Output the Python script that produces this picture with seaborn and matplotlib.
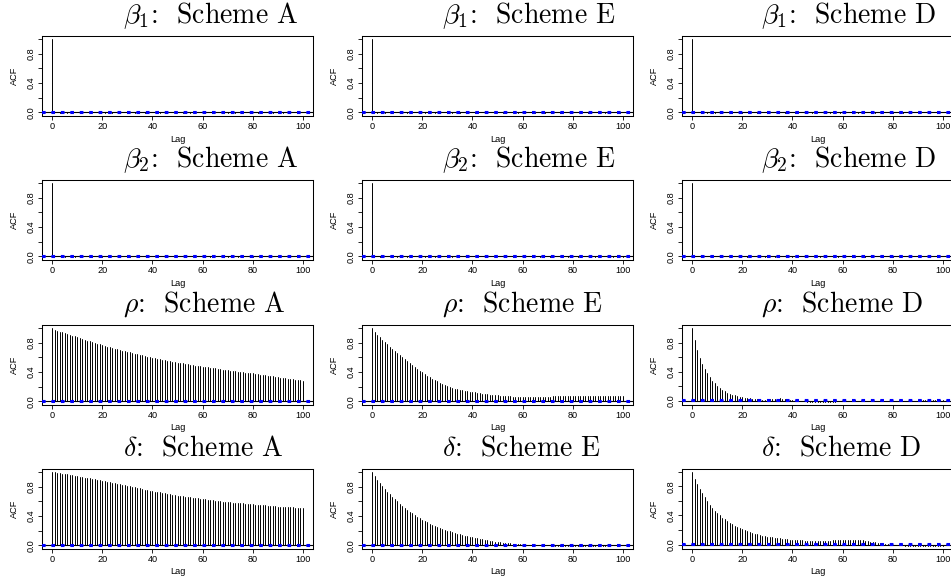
import numpy as np
import pandas as pd
import matplotlib
matplotlib.use("Agg")
import matplotlib.pyplot as plt
import seaborn as sns

# ---------------- data (ACF values, lags 0..100) ----------------
beta1_A = [1.0,
    0.006, 0.003, -0.002, 0.004, 0.001, -0.003, 0.002, 0.005, -0.001, 0.000,
    0.003, -0.004, 0.002, 0.001, -0.002, 0.004, 0.003, -0.001, 0.000, 0.002,
    -0.003, 0.001, 0.004, -0.002, 0.003, 0.000, -0.001, 0.002, 0.005, -0.003,
    0.001, 0.002, -0.002, 0.000, 0.003, 0.001, -0.004, 0.002, 0.004, -0.001,
    0.000, 0.003, -0.002, 0.001, 0.002, -0.003, 0.004, 0.000, -0.001, 0.002,
    0.003, -0.002, 0.001, 0.000, -0.003, 0.002, 0.004, -0.001, 0.001, 0.003,
    -0.002, 0.000, 0.002, -0.004, 0.001, 0.003, -0.001, 0.002, 0.000, -0.002,
    0.004, 0.001, -0.003, 0.002, 0.003, -0.001, 0.000, 0.002, -0.002, 0.001,
    0.004, -0.003, 0.000, 0.002, 0.003, -0.001, 0.001, -0.002, 0.003, 0.000,
    0.002, -0.004, 0.001, 0.003, -0.002, 0.000, 0.002, 0.004, -0.001, 0.001]

beta1_E = [1.0,
    0.004, -0.002, 0.003, 0.001, -0.003, 0.002, 0.000, 0.005, -0.001, 0.002,
    -0.002, 0.003, 0.001, -0.004, 0.002, 0.000, 0.003, -0.001, 0.004, 0.001,
    -0.003, 0.002, 0.000, 0.001, -0.002, 0.004, 0.002, -0.001, 0.000, 0.003,
    0.001, -0.003, 0.002, 0.004, -0.002, 0.000, 0.001, 0.003, -0.001, 0.002,
    -0.004, 0.001, 0.003, 0.000, -0.002, 0.002, 0.004, -0.001, 0.001, 0.000,
    0.003, -0.003, 0.002, 0.001, -0.001, 0.004, 0.000, -0.002, 0.003, 0.001,
    0.002, -0.001, 0.000, 0.003, -0.003, 0.002, 0.001, 0.004, -0.002, 0.000,
    0.001, 0.003, -0.001, 0.002, -0.004, 0.000, 0.003, 0.001, -0.002, 0.002,
    0.004, 0.000, -0.001, 0.002, 0.001, -0.003, 0.003, 0.000, 0.002, -0.001,
    0.001, 0.004, -0.002, 0.000, 0.003, -0.001, 0.002, 0.001, -0.003, 0.002]

beta1_D = [1.0,
    0.002, 0.005, -0.001, 0.003, 0.000, -0.002, 0.004, 0.001, -0.003, 0.002,
    0.003, 0.000, -0.001, 0.004, 0.002, -0.002, 0.001, 0.003, 0.000, -0.004,
    0.002, 0.001, -0.001, 0.003, 0.005, -0.002, 0.000, 0.002, 0.001, -0.003,
    0.004, 0.000, 0.002, -0.001, 0.003, 0.001, -0.002, 0.000, 0.004, 0.002,
    -0.003, 0.001, 0.003, -0.001, 0.000, 0.002, 0.004, -0.002, 0.001, 0.003,
    0.000, -0.001, 0.002, 0.005, -0.003, 0.001, 0.000, 0.003, -0.002, 0.002,
    0.004, -0.001, 0.001, 0.000, 0.003, -0.004, 0.002, 0.001, -0.001, 0.003,
    0.000, 0.002, -0.002, 0.004, 0.001, -0.001, 0.003, 0.000, 0.002, -0.003,
    0.001, 0.004, 0.000, -0.002, 0.002, 0.003, -0.001, 0.001, 0.000, 0.004,
    -0.002, 0.002, 0.001, -0.003, 0.003, 0.000, 0.002, -0.001, 0.004, 0.001]

beta2_A = [1.0,
    0.005, -0.001, 0.002, 0.003, -0.002, 0.000, 0.004, 0.001, -0.003, 0.002,
    0.000, 0.003, -0.001, 0.002, 0.004, -0.002, 0.001, 0.000, 0.003, -0.004,
    0.002, 0.001, 0.003, -0.001, 0.000, 0.002, -0.003, 0.004, 0.001, 0.000,
    -0.002, 0.003, 0.002, -0.001, 0.004, 0.000, 0.001, -0.002, 0.003, 0.002,
    0.000, -0.003, 0.001, 0.004, -0.001, 0.002, 0.000, 0.003, -0.002, 0.001,
    0.002, 0.004, -0.003, 0.000, 0.001, 0.003, -0.001, 0.002, 0.000, -0.002,
    0.003, 0.001, -0.004, 0.002, 0.000, 0.004, -0.001, 0.001, 0.003, -0.002,
    0.000, 0.002, 0.001, -0.003, 0.004, 0.000, -0.001, 0.003, 0.002, -0.002,
    0.001, 0.000, 0.003, -0.001, 0.002, 0.004, -0.003, 0.001, 0.000, 0.002,
    -0.002, 0.003, 0.001, 0.000, -0.004, 0.002, 0.003, -0.001, 0.001, 0.000]

beta2_E = [1.0,
    0.003, 0.001, -0.003, 0.002, 0.004, 0.000, -0.001, 0.003, 0.001, -0.002,
    0.002, 0.000, 0.004, -0.003, 0.001, 0.002, -0.001, 0.003, 0.000, 0.002,
    -0.002, 0.004, 0.001, 0.000, -0.003, 0.002, 0.003, -0.001, 0.001, 0.004,
    0.000, -0.002, 0.002, 0.003, -0.001, 0.001, 0.000, -0.004, 0.002, 0.003,
    0.001, -0.001, 0.004, 0.000, 0.002, -0.003, 0.001, 0.003, -0.002, 0.000,
    0.002, 0.001, -0.001, 0.004, 0.000, -0.002, 0.003, 0.001, 0.002, -0.003,
    0.000, 0.004, 0.001, -0.001, 0.002, 0.003, -0.002, 0.000, 0.001, 0.004,
    -0.003, 0.002, 0.000, 0.001, -0.001, 0.003, 0.002, -0.002, 0.004, 0.000,
    0.001, -0.003, 0.002, 0.003, 0.000, -0.001, 0.001, 0.004, -0.002, 0.002,
    0.000, 0.003, -0.001, 0.001, 0.002, -0.004, 0.000, 0.003, 0.001, -0.002]

beta2_D = [1.0,
    0.004, 0.002, 0.000, -0.002, 0.003, 0.001, -0.001, 0.004, 0.000, 0.002,
    -0.003, 0.001, 0.003, 0.000, -0.002, 0.004, 0.002, -0.001, 0.001, 0.003,
    0.000, -0.004, 0.002, 0.001, 0.003, -0.001, 0.000, 0.004, -0.002, 0.002,
    0.001, 0.000, -0.003, 0.003, 0.002, -0.001, 0.004, 0.001, 0.000, -0.002,
    0.003, 0.002, -0.001, 0.000, 0.004, -0.003, 0.001, 0.002, 0.000, 0.003,
    -0.002, 0.001, 0.004, -0.001, 0.000, 0.002, 0.003, -0.003, 0.001, 0.000,
    0.002, -0.001, 0.003, 0.004, -0.002, 0.000, 0.001, 0.002, -0.004, 0.003,
    0.001, 0.000, -0.001, 0.002, 0.004, -0.002, 0.003, 0.000, 0.001, -0.003,
    0.002, 0.003, 0.000, -0.001, 0.001, 0.004, -0.002, 0.002, 0.000, 0.003,
    -0.001, 0.001, 0.002, -0.003, 0.004, 0.000, 0.001, -0.002, 0.003, 0.002]

rho_A = [1.0,
    0.975, 0.962, 0.950, 0.940, 0.928, 0.917, 0.906, 0.895, 0.884, 0.872,
    0.861, 0.850, 0.840, 0.829, 0.819, 0.808, 0.798, 0.788, 0.777, 0.765,
    0.756, 0.747, 0.738, 0.729, 0.720, 0.711, 0.702, 0.693, 0.684, 0.675,
    0.667, 0.659, 0.651, 0.643, 0.635, 0.627, 0.619, 0.611, 0.603, 0.595,
    0.588, 0.581, 0.574, 0.567, 0.560, 0.553, 0.547, 0.541, 0.535, 0.529,
    0.523, 0.517, 0.511, 0.505, 0.499, 0.493, 0.488, 0.483, 0.478, 0.473,
    0.468, 0.463, 0.458, 0.453, 0.448, 0.443, 0.438, 0.433, 0.428, 0.423,
    0.418, 0.413, 0.408, 0.404, 0.400, 0.396, 0.392, 0.388, 0.384, 0.380,
    0.375, 0.370, 0.365, 0.360, 0.355, 0.350, 0.345, 0.340, 0.335, 0.330,
    0.325, 0.320, 0.315, 0.310, 0.305, 0.300, 0.296, 0.292, 0.288, 0.284]

rho_E = [1.0,
    0.950, 0.910, 0.875, 0.840, 0.808, 0.776, 0.746, 0.716, 0.688, 0.660,
    0.637, 0.605, 0.574, 0.545, 0.517, 0.490, 0.465, 0.441, 0.418, 0.396,
    0.372, 0.349, 0.328, 0.308, 0.289, 0.271, 0.254, 0.238, 0.223, 0.209,
    0.196, 0.185, 0.175, 0.166, 0.158, 0.150, 0.143, 0.137, 0.131, 0.126,
    0.121, 0.116, 0.111, 0.106, 0.101, 0.096, 0.092, 0.088, 0.084, 0.081,
    0.078, 0.075, 0.072, 0.070, 0.068, 0.066, 0.065, 0.064, 0.063, 0.062,
    0.062, 0.062, 0.062, 0.063, 0.063, 0.064, 0.064, 0.065, 0.065, 0.066,
    0.066, 0.067, 0.067, 0.068, 0.068, 0.069, 0.069, 0.070, 0.070, 0.071,
    0.071, 0.072, 0.072, 0.072, 0.073, 0.073, 0.073, 0.073, 0.073, 0.073,
    0.073, 0.072, 0.072, 0.072, 0.071, 0.071, 0.070, 0.070, 0.070, 0.069]

rho_D = [1.0,
    0.835, 0.700, 0.590, 0.505, 0.435, 0.375, 0.322, 0.275, 0.238, 0.205,
    0.178, 0.152, 0.130, 0.112, 0.096, 0.082, 0.071, 0.061, 0.053, 0.046,
    0.040, 0.035, 0.030, 0.026, 0.022, 0.019, 0.016, 0.014, 0.013, 0.014,
    0.017, 0.021, 0.025, 0.028, 0.030, 0.028, 0.024, 0.018, 0.012, 0.006,
    0.002, -0.002, -0.005, -0.008, -0.010, -0.012, -0.014, -0.016, -0.017, -0.018,
    -0.019, -0.019, -0.019, -0.018, -0.017, -0.015, -0.012, -0.009, -0.006, -0.003,
    -0.001, 0.001, 0.002, 0.003, 0.003, 0.002, 0.001, 0.000, -0.001, -0.002,
    -0.002, -0.003, -0.003, -0.002, -0.001, 0.000, 0.001, 0.002, 0.002, 0.002,
    0.001, 0.000, -0.001, -0.002, -0.002, -0.001, 0.000, 0.001, 0.002, 0.003,
    0.004, 0.004, 0.005, 0.005, 0.006, 0.006, 0.007, 0.008, 0.009, 0.010]

delta_A = [1.0,
    0.995, 0.990, 0.984, 0.978, 0.972, 0.966, 0.960, 0.954, 0.948, 0.941,
    0.935, 0.929, 0.923, 0.917, 0.911, 0.905, 0.898, 0.892, 0.886, 0.880,
    0.873, 0.866, 0.859, 0.852, 0.845, 0.838, 0.831, 0.824, 0.817, 0.810,
    0.803, 0.796, 0.789, 0.782, 0.775, 0.768, 0.761, 0.754, 0.747, 0.740,
    0.733, 0.727, 0.721, 0.715, 0.709, 0.703, 0.697, 0.691, 0.685, 0.679,
    0.674, 0.669, 0.664, 0.659, 0.654, 0.649, 0.644, 0.639, 0.634, 0.629,
    0.625, 0.621, 0.617, 0.613, 0.609, 0.605, 0.601, 0.597, 0.593, 0.589,
    0.586, 0.583, 0.580, 0.577, 0.574, 0.571, 0.568, 0.565, 0.562, 0.559,
    0.556, 0.553, 0.550, 0.547, 0.544, 0.541, 0.538, 0.535, 0.532, 0.529,
    0.527, 0.525, 0.523, 0.521, 0.519, 0.517, 0.515, 0.513, 0.511, 0.509]

delta_E = [1.0,
    0.945, 0.895, 0.850, 0.808, 0.768, 0.730, 0.694, 0.660, 0.628, 0.598,
    0.567, 0.538, 0.510, 0.484, 0.459, 0.435, 0.412, 0.390, 0.369, 0.349,
    0.330, 0.312, 0.295, 0.279, 0.264, 0.250, 0.237, 0.224, 0.212, 0.200,
    0.189, 0.178, 0.168, 0.158, 0.149, 0.140, 0.131, 0.123, 0.115, 0.107,
    0.100, 0.093, 0.086, 0.080, 0.074, 0.068, 0.062, 0.056, 0.051, 0.046,
    0.041, 0.037, 0.033, 0.029, 0.026, 0.023, 0.020, 0.017, 0.014, 0.012,
    0.010, 0.008, 0.006, 0.005, 0.004, 0.003, 0.002, 0.001, 0.000, -0.001,
    -0.002, -0.003, -0.004, -0.005, -0.006, -0.006, -0.007, -0.007, -0.008, -0.008,
    -0.009, -0.009, -0.010, -0.010, -0.010, -0.009, -0.009, -0.008, -0.007, -0.006,
    -0.005, -0.004, -0.003, -0.002, -0.001, 0.000, 0.001, 0.002, 0.002, 0.003]

delta_D = [1.0,
    0.905, 0.830, 0.765, 0.705, 0.650, 0.598, 0.550, 0.505, 0.465, 0.430,
    0.400, 0.372, 0.346, 0.322, 0.300, 0.280, 0.261, 0.243, 0.226, 0.210,
    0.196, 0.183, 0.171, 0.160, 0.150, 0.141, 0.132, 0.124, 0.117, 0.110,
    0.104, 0.098, 0.093, 0.088, 0.083, 0.079, 0.075, 0.071, 0.068, 0.065,
    0.062, 0.060, 0.058, 0.056, 0.054, 0.053, 0.052, 0.051, 0.050, 0.050,
    0.050, 0.051, 0.052, 0.053, 0.055, 0.057, 0.059, 0.061, 0.063, 0.065,
    0.066, 0.067, 0.067, 0.067, 0.066, 0.064, 0.061, 0.057, 0.052, 0.046,
    0.040, 0.034, 0.028, 0.022, 0.017, 0.012, 0.008, 0.004, 0.001, -0.002,
    -0.005, -0.008, -0.010, -0.012, -0.014, -0.016, -0.017, -0.018, -0.019, -0.020,
    -0.020, -0.021, -0.021, -0.021, -0.021, -0.020, -0.020, -0.019, -0.019, -0.018]

conf_limit = 0.009          # approx. 95% white-noise bound (blue dashed lines)

param_labels = [r"$\beta_1$", r"$\beta_2$", r"$\rho$", r"$\delta$"]
scheme_labels = ["A", "E", "D"]
acf_series = [
    [beta1_A, beta1_E, beta1_D],
    [beta2_A, beta2_E, beta2_D],
    [rho_A, rho_E, rho_D],
    [delta_A, delta_E, delta_D],
]
x_ticks = [0, 20, 40, 60, 80, 100]
y_ticks = [0.0, 0.2, 0.4, 0.6, 0.8, 1.0]
y_ticklabels = ["0.0", "", "0.4", "", "0.8", ""]

# ---------------- style ----------------
sns.set_style("ticks")
plt.rcParams["font.family"] = ["Liberation Sans", "DejaVu Sans"]
plt.rcParams["mathtext.fontset"] = "cm"
plt.rcParams["lines.scale_dashes"] = False
plt.rcParams["text.color"] = "black"
plt.rcParams["xtick.color"] = "black"
plt.rcParams["ytick.color"] = "black"
plt.rcParams["axes.edgecolor"] = "black"

W, H = 951, 582
fig = plt.figure(figsize=(W / 100, H / 100), dpi=100)
fig.patch.set_facecolor("white")

col_left = [42, 362, 682]
row_top = [36, 180, 325, 469]
aw, ah = 271, 80
title_left = [123, 442, 761]
title_base = [22.7, 167.0, 311.3, 455.6]

tick_fs = 6.6
for r in range(4):
    for c in range(3):
        vals = np.asarray(acf_series[r][c], dtype=float)
        lags = np.arange(len(vals))
        df = pd.DataFrame({
            "lag": np.concatenate([lags, lags]),
            "acf": np.concatenate([np.zeros_like(vals), vals]),
        })
        ax = fig.add_axes([col_left[c] / W, 1 - (row_top[r] + ah) / H, aw / W, ah / H])
        sns.lineplot(data=df, x="lag", y="acf", units="lag", estimator=None,
                     sort=False, color="black", linewidth=0.7, ax=ax, legend=False)
        ax.axhline(0, color="black", linewidth=0.8, zorder=3)
        for s in (1, -1):
            ax.axhline(s * conf_limit, color="#0000ff", linewidth=1.5,
                       linestyle=(0, (2.6, 4.2)), zorder=4)
        lo = min(vals.min(), -conf_limit)
        hi = max(vals.max(), conf_limit)
        pad = 0.04 * (hi - lo)
        ax.set_ylim(lo - pad, hi + pad)
        ax.set_xlim(-4, 104)
        ax.set_xticks(x_ticks)
        ax.set_xticklabels([str(t) for t in x_ticks])
        ax.set_yticks(y_ticks)
        ax.set_yticklabels(y_ticklabels)
        ax.set_xlabel("")
        ax.set_ylabel("")
        ax.tick_params(axis="both", direction="out", length=3.0, width=0.6,
                       labelsize=tick_fs, pad=1.5)
        ax.tick_params(axis="y", labelrotation=90)
        for lab in ax.get_yticklabels():
            lab.set_va("center")
        for sp in ax.spines.values():
            sp.set_visible(True)
            sp.set_linewidth(0.75)
            sp.set_color("black")
        ax.set_facecolor("white")

        # axis labels
        fig.text((col_left[c] - 28) / W, 1 - (row_top[r] + ah / 2) / H, "ACF",
                 rotation=90, ha="center", va="center", fontsize=tick_fs)
        fig.text((col_left[c] + aw / 2) / W, 1 - (row_top[r] + ah + 23) / H, "Lag",
                 ha="center", va="center", fontsize=tick_fs)
        # panel title (Computer Modern, like the LaTeX original)
        fig.text(title_left[c] / W, 1 - title_base[r] / H,
                 "%s:  Scheme %s" % (param_labels[r], scheme_labels[c]),
                 ha="left", va="baseline", fontsize=20, family="cmr10")

fig.savefig("out.png", dpi=100, facecolor="white")
